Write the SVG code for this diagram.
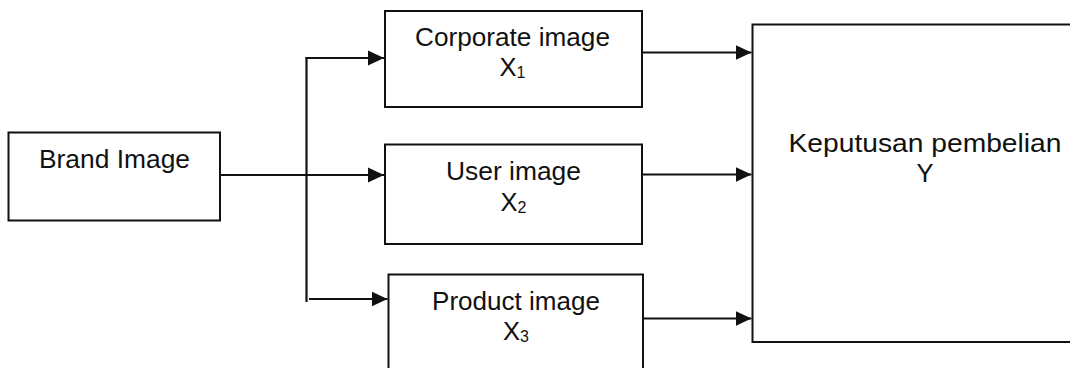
<svg xmlns="http://www.w3.org/2000/svg" width="1070" height="368" viewBox="0 0 1070 368">
  <style>
    .box { fill: #ffffff; stroke: #111111; stroke-width: 2; }
    .lbl { font-family: "Liberation Sans", Arial, sans-serif; font-size: 25.5px; fill: #111111; text-anchor: middle; }
    .sub { font-size: 16px; }
    .wire { fill: none; stroke: #111111; stroke-width: 2.2; }
  </style>
  <defs>
    <marker id="head" markerUnits="userSpaceOnUse" markerWidth="17" markerHeight="16" refX="16" refY="8" orient="auto">
      <path d="M0,0.5 L16,8 L0,15.5 Z" fill="#111111"/>
    </marker>
  </defs>
  <rect width="1070" height="368" fill="#ffffff"/>

  <!-- connectors -->
  <g id="connectors">
    <line class="wire" x1="306.5" y1="57" x2="306.5" y2="302"/>
    <line class="wire" x1="305.5" y1="58" x2="384" y2="58" marker-end="url(#head)"/>
    <line class="wire" x1="220" y1="175" x2="384" y2="175" marker-end="url(#head)"/>
    <line class="wire" x1="309" y1="299" x2="387.5" y2="299" marker-end="url(#head)"/>
    <line class="wire" x1="643" y1="52.5" x2="751.5" y2="52.5" marker-end="url(#head)"/>
    <line class="wire" x1="643" y1="174.5" x2="751.5" y2="174.5" marker-end="url(#head)"/>
    <line class="wire" x1="643" y1="318.5" x2="751.5" y2="318.5" marker-end="url(#head)"/>
  </g>

  <!-- source -->
  <g id="brand-image">
    <rect class="box" x="8.5" y="132.5" width="211.5" height="88"/>
    <text class="lbl" x="114.5" y="167.5" textLength="151" lengthAdjust="spacingAndGlyphs">Brand Image</text>
  </g>

  <!-- dimensions -->
  <g id="corporate-image">
    <rect class="box" x="385" y="11" width="257" height="96"/>
    <text class="lbl" x="512.5" y="45.5" textLength="195" lengthAdjust="spacingAndGlyphs">Corporate image</text>
    <text class="lbl" x="512.5" y="76">X<tspan class="sub" dy="2">1</tspan></text>
  </g>

  <g id="user-image">
    <rect class="box" x="385" y="144.5" width="257" height="99.5"/>
    <text class="lbl" x="513.5" y="180" textLength="135" lengthAdjust="spacingAndGlyphs">User image</text>
    <text class="lbl" x="513.5" y="210.5">X<tspan class="sub" dy="2">2</tspan></text>
  </g>

  <g id="product-image">
    <rect class="box" x="388.5" y="274.5" width="254.5" height="100"/>
    <text class="lbl" x="516" y="310" textLength="168" lengthAdjust="spacingAndGlyphs">Product image</text>
    <text class="lbl" x="516" y="340">X<tspan class="sub" dy="2">3</tspan></text>
  </g>

  <!-- outcome -->
  <g id="keputusan-pembelian">
    <rect class="box" x="752.5" y="24.5" width="330" height="317.5"/>
    <text class="lbl" x="925" y="151.5" textLength="273" lengthAdjust="spacingAndGlyphs">Keputusan pembelian</text>
    <text class="lbl" x="925" y="181.5">Y</text>
  </g>
</svg>
